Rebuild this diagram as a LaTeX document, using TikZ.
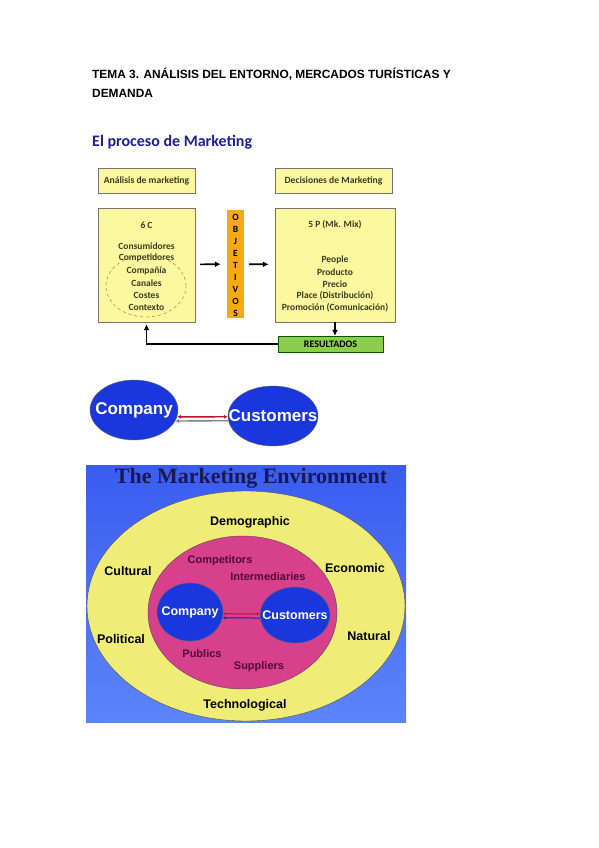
\documentclass[tikz,border=0pt]{standalone}
\usepackage{fontspec}
\setmainfont{Liberation Sans}
\newfontfamily\calfont{Carlito}
\newfontfamily\serfont{Liberation Serif}
\usetikzlibrary{arrows.meta}
\usetikzlibrary{shapes.geometric,positioning}
\definecolor{boxyellow}{RGB}{251,248,160}
\definecolor{boxtext}{RGB}{60,60,30}
\definecolor{barorange}{RGB}{245,170,20}
\definecolor{resgreen}{RGB}{140,205,75}
\definecolor{titleblue}{RGB}{30,30,150}
\definecolor{bluetop}{RGB}{58,92,240}
\definecolor{bluebot}{RGB}{92,132,250}
\definecolor{envyellow}{RGB}{240,236,120}
\definecolor{envpink}{RGB}{214,64,140}
\definecolor{custblue}{RGB}{25,55,220}
\definecolor{innertext}{RGB}{80,10,60}
\definecolor{envtitle}{RGB}{25,25,80}
\definecolor{dashbrown}{RGB}{165,95,35}
\definecolor{darkred}{RGB}{190,20,40}

\begin{document}
\begin{tikzpicture}[x=1pt,y=-1pt]
  \tikzset{ybox/.style = {draw=black!55, fill=boxyellow, inner sep=0pt}}
  \tikzset{boxtxt/.style = {text=boxtext, font=\calfont\bfseries\fontsize{9.5}{12}\selectfont, inner sep=0pt}}
  \tikzset{blob/.style = {shape=ellipse, draw=black!60, fill=custblue, inner sep=0pt}}
  \tikzset{outer/.style = {font=\bfseries\fontsize{12.5}{14}\selectfont, inner sep=0pt}}
  \tikzset{inner/.style = {text=innertext, font=\bfseries\fontsize{11}{13}\selectfont, inner sep=0pt}}
  \tikzset{edge/.style = {-{Latex[length=6pt,width=6pt]}, line width=1.7pt}}
  \useasboundingbox (0,0) rectangle (599,848);

  % heading
  \node[anchor=north west, align=left, inner sep=0pt, font=\bfseries\fontsize{11.9}{19}\selectfont]
    (tema) at (92,68) {TEMA 3. ANÁLISIS DEL ENTORNO, MERCADOS TURÍSTICAS Y\\DEMANDA};
  \node[anchor=west, inner sep=0pt, text=titleblue, font=\calfont\bfseries\fontsize{16}{18}\selectfont]
    (proc) at (92,142) {El proceso de Marketing};

  % proceso de marketing
  \node[ybox, minimum width=97, minimum height=25] (anal) at (146.5,180.5) {};
  \node[boxtxt, font=\calfont\bfseries\fontsize{9.6}{11}\selectfont] (analt) at (anal) {Análisis de marketing};
  \node[ybox, minimum width=117, minimum height=25] (deci) at (333.5,180.5) {};
  \node[boxtxt, font=\calfont\bfseries\fontsize{9.6}{11}\selectfont] (decit) at (deci) {Decisiones de Marketing};

  \node[ybox, minimum width=97, minimum height=114] (sixc) at (146.5,265) {};
  \node[ybox, minimum width=120, minimum height=114] (fivep) at (335,265) {};
  \node[fill=barorange, minimum width=17, minimum height=108, inner sep=0pt] (objbar) at (235.5,264) {};

  \node[boxtxt] (sixct) at (146.5,225) {6 C};
  \foreach \y/\t in {246/Consumidores, 258/Competidores, 271/Compañía, 283/Canales, 295/Costes, 307/Contexto}
    \node[boxtxt] (c\y) at (146.5,\y) {\t};
  \node[shape=ellipse, draw=dashbrown, dashed, minimum width=80, minimum height=62] (circ) at (146,286) {};

  \node[boxtxt] (fivept) at (335,225) {5 P (Mk. Mix)};
  \foreach \y/\t in {260/People, 272/Producto, 284/Precio, 296/Place (Distribución), 308/Promoción (Comunicación)}
    \node[boxtxt] (p\y) at (335,\y) {\t};

  \foreach \l [count=\i] in {O,B,J,E,T,I,V,O,S}
    \node[inner sep=0pt, font=\calfont\bfseries\fontsize{9.5}{10}\selectfont] (obj\i) at (235.5,205+12*\i) {\l};

  \node[draw=green!35!black, fill=resgreen, minimum width=105, minimum height=16, inner sep=0pt,
    font=\calfont\bfseries\fontsize{10}{11}\selectfont] (res) at (330.5,344) {RESULTADOS};

  \foreach \from/\to in {sixc/objbar, objbar/fivep}
    \path[edge, shorten <=5pt, shorten >=6pt] (\from) edge (\to);
  \draw[edge, line width=1.3pt] (fivep.south) -- (res.north -| fivep.south);
  \draw[edge] (res.west) -| ([yshift=-2pt]sixc.south);

  % company / customers
  \node[blob, minimum width=88, minimum height=60] (comp) at (134,410) {};
  \node[blob, minimum width=90, minimum height=60] (cust) at (273,416) {};
  \node[text=white, inner sep=0pt, font=\bfseries\fontsize{17}{19}\selectfont] (compt) at (comp) {Company};
  \node[text=white, inner sep=0pt, font=\bfseries\fontsize{17}{19}\selectfont] (custt) at (cust) {Customers};
  \draw[{Latex[length=4pt,width=4pt]}-{Latex[length=4pt,width=4pt]}, darkred, line width=1.4pt]
    (comp.-9) -- (cust.181);
  \draw[{Latex[length=4pt,width=4pt]}-, gray, line width=1.4pt] (comp.-15) -- (cust.186);

  % marketing environment
  \node[top color=bluetop, bottom color=bluebot, minimum width=320, minimum height=257, inner sep=0pt] (envbg) at (246,593.5) {};
  \node[text=envtitle, inner sep=0pt, font=\serfont\bfseries\fontsize{22}{24}\selectfont] (envt) at (251,478) {The Marketing Environment};
  \node[shape=ellipse, draw=black!70, fill=envyellow, minimum width=318, minimum height=230] (macro) at (246,606) {};
  \node[shape=ellipse, draw=black!70, fill=envpink, minimum width=189, minimum height=153] (micro) at (242.5,612.5) {};
  \node[blob, minimum width=66, minimum height=58] (icomp) at (190,612) {};
  \node[blob, minimum width=70, minimum height=56] (icust) at (295,615) {};
  \node[text=white, inner sep=0pt, font=\bfseries\fontsize{12.5}{14}\selectfont] (icompt) at (icomp) {Company};
  \node[text=white, inner sep=0pt, font=\bfseries\fontsize{12.5}{14}\selectfont] (icustt) at (icust) {Customers};
  \draw[{Latex[length=3pt,width=3pt]}-{Latex[length=3pt,width=3pt]}, darkred, line width=1pt] (icomp.-3.5) -- (icust.178.4);
  \draw[{Latex[length=3pt,width=3pt]}-, custblue!70!black, line width=1pt] (icomp.-10.5) -- (icust.185);

  \foreach \x/\y/\t in {250/522/Demographic, 128/571/Cultural, 355/568/Economic, 121/639/Political, 369/636/Natural, 245/705/Technological}
    \node[outer] (m\t) at (\x,\y) {\t};
  \foreach \x/\y/\t in {220/561/Competitors, 268/577/Intermediaries, 202/654/Publics, 259/667/Suppliers}
    \node[inner] (i\t) at (\x,\y) {\t};
\end{tikzpicture}
\end{document}
